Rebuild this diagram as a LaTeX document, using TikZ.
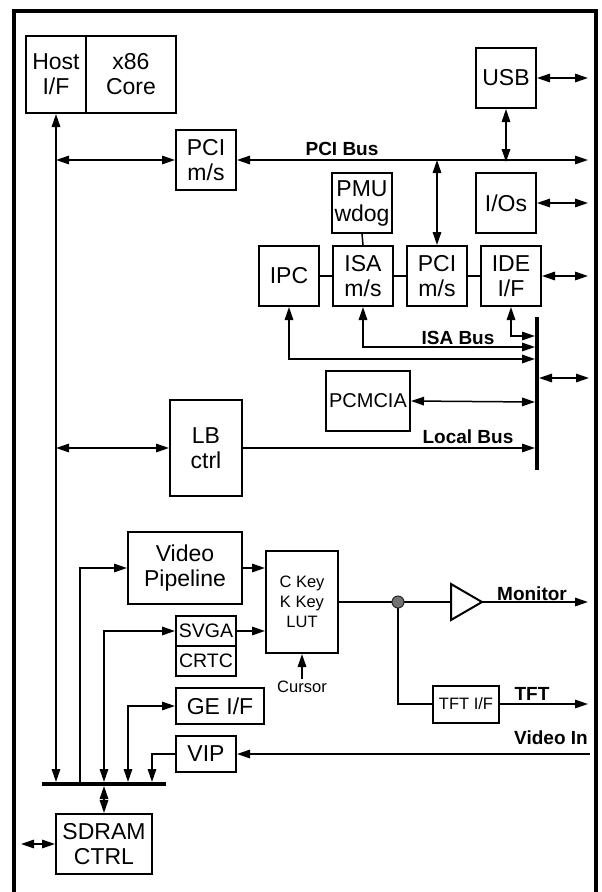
\documentclass[tikz,border=0pt]{standalone}
\usepackage{fontspec}
\setmainfont{Liberation Sans}
\usetikzlibrary{arrows.meta,positioning}

\begin{document}
\begin{tikzpicture}[
  x=1pt, y=-1pt,
  font=\fontsize{23}{25}\selectfont,
  box/.style={draw, line width=2pt, align=center, inner sep=0pt,
    minimum width=60pt, minimum height=60pt},
  smallbox/.style={box, font=\fontsize{16.5}{20}\selectfont},
  halfbox/.style={box, minimum height=30pt, font=\fontsize{19.5}{22}\selectfont},
  buslabel/.style={font=\fontsize{19}{22}\selectfont\bfseries, inner sep=0pt},
  link/.style={line width=1.5pt},
  flow/.style={link, -{Triangle[length=13pt,width=8.5pt]}},
  biflow/.style={link, {Triangle[length=13pt,width=8.5pt]}-{Triangle[length=13pt,width=8.5pt]}},
  bus/.style={line width=4pt},
]
  \useasboundingbox (0,0) rectangle (602,892);
  \draw[line width=4pt] (14,892) -- (14,11) -- (595.5,11) -- (595.5,892);

  \node[box, minimum width=60pt, minimum height=77pt] (host-if) at (56,74.5) {Host\\I/F};
  \node[box, minimum width=90pt, minimum height=77pt] (x86-core) at (131,74.5) {x86\\Core};
  \node[box] (pci-ms-host) at (206,160) {PCI\\m/s};
  \node[box] (usb) at (506,78) {USB};
  \node[box] (ios) at (506,203) {I/Os};
  \node[box] (pmu-wdog) at (362,203) {PMU\\wdog};
  \node[box] (ipc) at (289,276) {IPC};
  \node[box, right=12pt of ipc] (isa-ms) {ISA\\m/s};
  \node[box, right=12pt of isa-ms] (pci-ms-south) {PCI\\m/s};
  \node[box, right=12pt of pci-ms-south] (ide-if) {IDE\\I/F};
  \node[box, minimum width=84pt, font=\fontsize{20}{25}\selectfont] (pcmcia) at (368,401) {PCMCIA};
  \node[box, minimum width=72pt, minimum height=96pt] (lb-ctrl) at (206,448) {LB\\ctrl};
  \node[box, minimum width=114pt, minimum height=72pt] (video-pipeline) at (185,568) {Video\\Pipeline};
  \node[smallbox, minimum width=72pt, minimum height=102pt] (key-lut) at (302,602) {C Key\\K Key\\LUT};
  \node[halfbox] (svga) at (206,631) {SVGA};
  \node[halfbox] (crtc) at (206,661) {CRTC};
  \node[box, minimum width=88pt, minimum height=36pt] (ge-if) at (220,706) {GE I/F};
  \node[box, minimum height=36pt] (vip) at (206,754) {VIP};
  \node[box, minimum width=96pt] (sdram-ctrl) at (104,844) {SDRAM\\CTRL};
  \node[smallbox, minimum width=66pt, minimum height=37pt] (tft-if) at (466,704) {TFT I/F};
  \node[font=\fontsize{16.5}{18}\selectfont, inner sep=2pt] (cursor) at (302,687) {Cursor};

  \node[buslabel] (pci-bus-label) at (342,149) {PCI Bus};
  \node[buslabel] (isa-bus-label) at (458,338) {ISA Bus};
  \node[buslabel] (local-bus-label) at (468,437) {Local Bus};
  \node[buslabel] (monitor-label) at (532,594) {Monitor};
  \node[buslabel] (tft-label) at (532,694) {TFT};
  \node[buslabel] (video-in-label) at (551,738) {Video In};

  \coordinate (pci-bus-end) at (588,160);
  \coordinate (isa-bar-top) at (537,317);
  \coordinate (isa-bar-bottom) at (537,470);
  \coordinate (ide-tap) at (535,336);
  \coordinate (isa-tap) at (535,347);
  \coordinate (ipc-tap) at (535,359);
  \coordinate (pcmcia-tap) at (535,402);
  \coordinate (local-tap) at (535,448);
  \coordinate (isa-out) at (539,378);
  \coordinate (isa-out-end) at (589,378);
  \coordinate (mem-bus-left) at (42,784);
  \coordinate (mem-bus-right) at (166,784);
  \coordinate (host-drop) at (56,782);
  \coordinate (video-drop) at (80,784);
  \coordinate (svga-drop) at (104,782);
  \coordinate (ge-drop) at (128,782);
  \coordinate (vip-drop) at (152,782);
  \coordinate (sdram-tap) at (104,786);
  \coordinate (sdram-ext) at (21,844);
  \coordinate (junction) at (398,602);
  \coordinate (buffer-in) at (451,602);
  \coordinate (buffer-out) at (482,602);
  \coordinate (monitor-end) at (588,602);
  \coordinate (tft-end) at (588,704);
  \coordinate (video-in-start) at (590,754);

  \draw[bus] (isa-bar-top) -- (isa-bar-bottom);
  \draw[bus] (mem-bus-left) -- (mem-bus-right);

  \draw[biflow] (host-if.south) -- (host-drop);
  \draw[biflow] (host-if.south |- pci-ms-host.west) -- (pci-ms-host.west);
  \draw[biflow] (pci-ms-host.east) -- (pci-bus-end);
  \draw[biflow] (usb.south) -- ([yshift=-2pt]usb.south |- pci-bus-end);
  \draw[biflow] (usb.east) -- (pci-bus-end |- usb.east);
  \draw[biflow] (ios.east) -- (pci-bus-end |- ios.east);
  \draw[biflow] (pci-ms-south.north |- pci-bus-end) -- (pci-ms-south.north);
  \draw[link] (pmu-wdog.south) -- (isa-ms.north);
  \draw[link] (ipc.east) -- (isa-ms.west);
  \draw[link] (isa-ms.east) -- (pci-ms-south.west);
  \draw[link] (pci-ms-south.east) -- (ide-if.west);
  \draw[biflow] (ide-if.east) -- (pci-bus-end |- ide-if.east);
  \draw[biflow] (ide-if.south) |- (ide-tap);
  \draw[biflow] (isa-ms.south) |- (isa-tap);
  \draw[biflow] (ipc.south) |- (ipc-tap);
  \draw[biflow] (isa-out) -- (isa-out-end);
  \draw[biflow] (pcmcia.east) -- (pcmcia-tap);
  \draw[biflow] (host-if.south |- lb-ctrl.west) -- (lb-ctrl.west);
  \draw[flow] (lb-ctrl.east) -- (local-tap);

  \draw[flow] (video-drop) |- (video-pipeline.west);
  \draw[biflow] (svga-drop) |- (svga.west);
  \draw[biflow] (ge-drop) |- (ge-if.west);
  \draw[flow] (vip.west) -| (vip-drop);
  \draw[biflow] (sdram-tap) -- (sdram-ctrl.north);
  \draw[biflow] (sdram-ext) -- (sdram-ctrl.west);
  \draw[flow] (video-pipeline.east) -- (key-lut.west |- video-pipeline.east);
  \draw[flow] (svga.east) -- (key-lut.west |- svga.east);
  \draw[flow] (cursor.north) -- (key-lut.south);
  \draw[flow] (video-in-start) -- (vip.east);

  \draw[link] (key-lut.east) -- (junction) -- (buffer-in);
  \draw[line width=2pt] (451,584) -- (buffer-out) -- (451,620) -- cycle;
  \draw[flow] (buffer-out) -- (monitor-end);
  \draw[link] (junction) |- (tft-if.west);
  \draw[flow] (tft-if.east) -- (tft-end);
  \filldraw[fill=black!55, draw=black!85, line width=1pt] (junction) circle (6pt);
\end{tikzpicture}
\end{document}
